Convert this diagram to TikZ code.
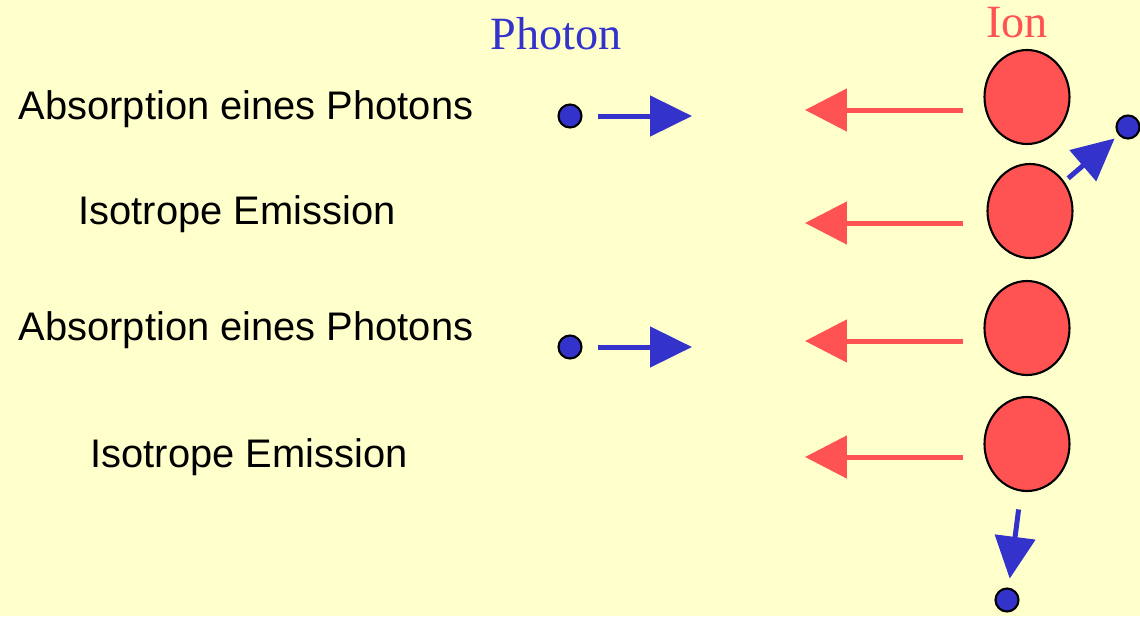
\documentclass[tikz,border=0pt]{standalone}
\usepackage{fontspec}
\setmainfont{Liberation Sans}
\newfontfamily\serifface{Liberation Serif}
\usetikzlibrary{arrows.meta,shapes.geometric}
\definecolor{bgyellow}{HTML}{FFFFCC}
\definecolor{photonblue}{HTML}{3333CC}
\definecolor{ionred}{HTML}{FF5252}
\begin{document}
\begin{tikzpicture}[x=0.02cm, y=-0.02cm,
    ion/.style={ellipse, draw=black, line width=1.2pt, fill=ionred, minimum width=1.7cm, minimum height=1.88cm, inner sep=0pt},
    photon/.style={circle, draw=black, line width=1.2pt, fill=photonblue, minimum size=0.46cm, inner sep=0pt},
    stepname/.style={inner sep=0pt, font=\fontsize{22.7}{27}\selectfont},
    head/.style={inner sep=0pt, font=\serifface\fontsize{26.3}{30}\selectfont},
    bluearrow/.style={draw=photonblue, line width=0.1cm, -{Triangle[length=0.84cm, width=0.8cm]}},
    redarrow/.style={draw=ionred, line width=0.1cm, -{Triangle[length=0.84cm, width=0.84cm]}}]
\useasboundingbox (0,0) rectangle (1140,616);
\fill[bgyellow] (0,0) rectangle (1140,616);

\node[head, text=photonblue] (photonhead) at (556,34) {Photon};
\node[head, text=ionred] (ionhead) at (1017,23) {Ion};

\node[stepname] (t1) at (246,109) {Absorption eines Photons};
\node[stepname] (t2) at (237,214) {Isotrope Emission};
\node[stepname] (t3) at (246,330) {Absorption eines Photons};
\node[stepname] (t4) at (249,457) {Isotrope Emission};

\node[ion] (i1) at (1027,97) {};
\node[ion] (i2) at (1030,211) {};
\node[ion] (i3) at (1027,328) {};
\node[ion] (i4) at (1027,444) {};

\node[photon] (p1) at (570,116) {};
\node[photon] (p3) at (570,347) {};
\node[photon] (e2) at (1128,127) {};
\node[photon] (e4) at (1007,600) {};

\coordinate (p1e) at (692,116);
\coordinate (p3e) at (692,347);
\draw[bluearrow, shorten <=0.3cm] (p1) -- (p1e);
\draw[bluearrow, shorten <=0.3cm] (p3) -- (p3e);
\draw[bluearrow, shorten <=0.1cm, shorten >=0.1cm] (i2) -- (e2);
\draw[bluearrow, shorten <=0.36cm, shorten >=0.18cm] (i4) -- (e4);

\foreach \n/\y in {1/110, 2/223, 3/341, 4/457}
{
    \coordinate (r\n s) at (963,\y);
    \coordinate (r\n e) at (805,\y);
    \draw[redarrow] (r\n s) -- (r\n e);
}
\end{tikzpicture}
\end{document}
